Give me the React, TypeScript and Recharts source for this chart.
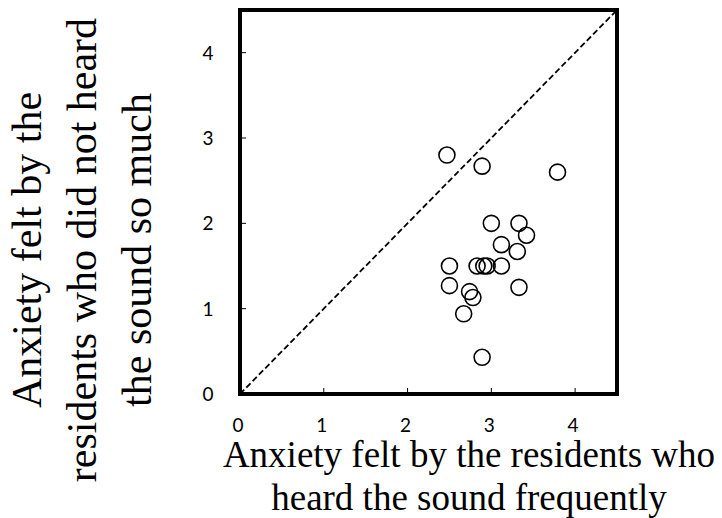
import {
  ScatterChart,
  Scatter,
  XAxis,
  YAxis,
  ReferenceArea,
  ReferenceLine,
} from 'recharts';

// residents who heard the sound frequently (x) vs. those who did not (y)
const frequentAnxiety = [
  2.47, 2.89, 3.79, 3.0, 3.33, 3.42, 3.12, 3.31, 2.5, 2.83,
  2.91, 2.95, 3.12, 2.5, 2.74, 2.78, 3.33, 2.67, 2.89,
];
const rareAnxiety = [
  2.8, 2.67, 2.6, 2.0, 2.0, 1.86, 1.75, 1.67, 1.5, 1.5,
  1.5, 1.5, 1.5, 1.27, 1.2, 1.13, 1.25, 0.94, 0.43,
];
const axisTicks = [0, 1, 2, 3, 4];
const axisMax = 4.5;

const xTitleLines = ['Anxiety felt by the residents who', 'heard the sound frequently'];
const yTitleLines = ['Anxiety felt by the', 'residents who did not heard', 'the sound so much'];

const points = frequentAnxiety.map((x, i) => ({ x, y: rareAnxiety[i] }));

const PLOT_LEFT = 240;
const PLOT_BOTTOM = 394;
const TICK_FONT = "Lato, 'Open Sans', sans-serif";
const TITLE_FONT = "'Liberation Serif', 'Times New Roman', serif";

const XTick = ({ x, payload }: any) => (
  <g>
    <line x1={x} x2={x} y1={PLOT_BOTTOM} y2={PLOT_BOTTOM - 6} stroke="#000" strokeWidth={1} />
    <text x={x - 2} y={432} textAnchor="middle" fontSize={19} fontFamily={TICK_FONT} fill="#000">
      {payload.value}
    </text>
  </g>
);

const YTick = ({ y, payload }: any) => (
  <g>
    <line x1={PLOT_LEFT} x2={PLOT_LEFT + 6} y1={y} y2={y} stroke="#000" strokeWidth={1} />
    <text x={208} y={y + 7} textAnchor="middle" fontSize={19} fontFamily={TICK_FONT} fill="#000">
      {payload.value}
    </text>
  </g>
);

const XTitle = () => (
  <text textAnchor="middle" fontSize={37} fontFamily={TITLE_FONT} fill="#000">
    {xTitleLines.map((line, i) => (
      <tspan key={line} x={469} y={467 + i * 43}>
        {line}
      </tspan>
    ))}
  </text>
);

// three stacked lines, rotated to read bottom-up
const YTitle = () => (
  <text
    transform="translate(0,250) rotate(-90)"
    textAnchor="middle"
    fontSize={42}
    fontFamily={TITLE_FONT}
    fill="#000"
  >
    {yTitleLines.map((line, i) => (
      <tspan key={line} x={0} y={41 + i * 55}>
        {line}
      </tspan>
    ))}
  </text>
);

const Ring = ({ cx, cy }: any) => (
  <circle cx={cx} cy={cy} r={8} fill="none" stroke="#000" strokeWidth={1.6} />
);

export default function App() {
  return (
    <div style={{ position: 'absolute', left: 0, top: 0 }}>
      <ScatterChart
        width={722}
        height={518}
        margin={{ top: 10, right: 105, bottom: 94, left: 180 }}
        style={{ background: '#fff' }}
      >
        <XAxis
          type="number"
          dataKey="x"
          domain={[0, axisMax]}
          ticks={axisTicks}
          height={30}
          axisLine={false}
          tickLine={false}
          tick={<XTick />}
          label={{ content: () => <XTitle /> }}
        />
        <YAxis
          type="number"
          dataKey="y"
          domain={[0, axisMax]}
          ticks={axisTicks}
          width={60}
          axisLine={false}
          tickLine={false}
          tick={<YTick />}
          label={{ content: () => <YTitle /> }}
        />
        <ReferenceLine
          segment={[
            { x: 0, y: 0 },
            { x: axisMax, y: axisMax },
          ]}
          stroke="#000"
          strokeWidth={1.8}
          strokeDasharray="6 3"
        />
        <Scatter data={points} shape={<Ring />} isAnimationActive={false} />
        <ReferenceArea
          x1={0}
          x2={axisMax}
          y1={0}
          y2={axisMax}
          fill="none"
          fillOpacity={0}
          stroke="#000"
          strokeWidth={4}
        />
      </ScatterChart>
    </div>
  );
}
